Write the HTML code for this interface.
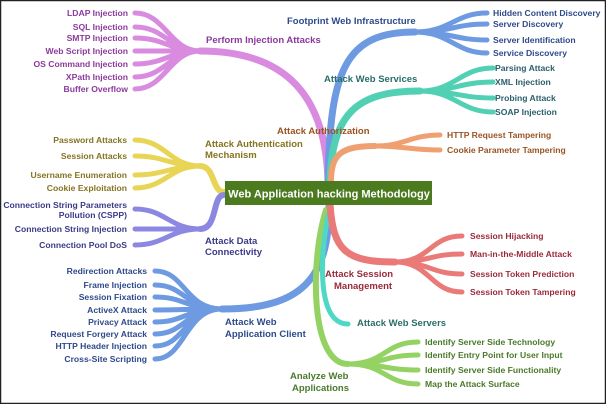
<!DOCTYPE html>
<html><head><meta charset="utf-8"><style>
html,body{margin:0;padding:0;background:#fff}
svg{display:block}
text{font-family:"Liberation Sans",sans-serif;font-weight:bold;font-size:8.6px}
</style></head><body>
<svg width="606" height="404" viewBox="0 0 606 404" xmlns="http://www.w3.org/2000/svg">
<rect x="0.5" y="0.5" width="605" height="403" fill="#fff" stroke="#222" stroke-width="1.5"/>
<g fill="none" stroke-linecap="round">
<!-- injection -->
<g stroke="#d98be0">
<path d="M328 182 C326 100 290 51 200 51" stroke-width="7"/>
<path d="M200 51 C170 51 165 13 135 13 M200 51 C170 51 165 27 135 27 M200 51 C170 51 165 38 135 38 M200 51 L135 51 M200 51 C170 51 165 64 135 64 M200 51 C170 51 165 77 135 77 M200 51 C170 51 165 89 135 89" stroke-width="5"/>
</g>
<!-- footprint -->
<g stroke="#6d9ae0">
<path d="M328 182 C330 70 345 32 415 32" stroke-width="7"/>
<path d="M415 32 C450 32 455 13 487 13 M415 32 C450 32 455 24 487 24 M415 32 C450 32 455 40 487 40 M415 32 C450 32 455 53 487 53" stroke-width="5"/>
</g>
<!-- web services -->
<g stroke="#52d0b4">
<path d="M330 182 C332 115 355 91 420 91" stroke-width="7"/>
<path d="M420 91 C455 91 460 68 493 68 M420 91 C455 91 460 82 493 82 M420 91 C455 91 460 98 493 98 M420 91 C455 91 460 112 493 112" stroke-width="5"/>
</g>
<!-- authorization -->
<g stroke="#f0a070">
<path d="M331 182 C331 155 340 146 375 146" stroke-width="6"/>
<path d="M375 146 C405 146 410 135 440 135 M375 146 C405 146 410 150 440 150" stroke-width="5"/>
</g>
<!-- auth mech -->
<g stroke="#e8d455">
<path d="M224 192 C212 192 215 166 200 166" stroke-width="6"/>
<path d="M200 166 C170 166 165 140 135 140 M200 166 C170 166 165 156 135 156 M200 166 C170 166 165 175 135 175 M200 166 C170 166 165 188 135 188" stroke-width="5"/>
</g>
<!-- data connectivity -->
<g stroke="#8c88e2">
<path d="M224 195 C212 195 218 229 200 229" stroke-width="6"/>
<path d="M200 229 C170 229 165 209 135 209 M200 229 L135 229 M200 229 C170 229 165 245 135 245" stroke-width="5"/>
</g>
<!-- client -->
<g stroke="#6d9ae0">
<path d="M329 204 C330 280 300 309 222 309" stroke-width="7"/>
<path d="M222 309 C185 309 185 271 155 271 M222 309 C185 309 185 285 155 285 M222 309 C185 309 185 297 155 297 M222 309 C185 309 185 310 155 310 M222 309 C185 309 185 322 155 322 M222 309 C185 309 185 334 155 334 M222 309 C185 309 185 346 155 346 M222 309 C185 309 185 359 155 359" stroke-width="5"/>
</g>
<!-- green analyze -->
<g stroke="#94d264">
<path d="M326 210 C310 260 310 364 348 364" stroke-width="6"/>
<path d="M348 364 C385 364 385 342 418 342 M348 364 C385 364 385 355 418 355 M348 364 C385 364 385 370 418 370 M348 364 C385 364 385 384 418 384" stroke-width="5"/>
</g>
<!-- web servers -->
<path d="M328 215 C318 270 320 324 348 324" stroke="#4fd8c6" stroke-width="5"/>
<!-- session -->
<g stroke="#e97a78">
<path d="M330 204 C333 250 345 262 395 262" stroke-width="7"/>
<path d="M395 262 C430 262 430 236 462 236 M395 262 C430 262 430 254 462 254 M395 262 C430 262 430 274 462 274 M395 262 C430 262 430 292 462 292" stroke-width="5"/>
</g>
</g>
<!-- central -->
<rect x="225" y="181" width="207" height="24" fill="#4b7a1f"/>
<text x="329" y="197.5" text-anchor="middle" fill="#fff" style="font-size:11px">Web Application hacking Methodology</text>
<!-- labels -->
<g text-anchor="end" fill="#8b3a9c">
<text x="128" y="16">LDAP Injection</text><text x="128" y="30">SQL Injection</text><text x="128" y="41">SMTP Injection</text><text x="128" y="54">Web Script Injection</text><text x="128" y="67">OS Command Injection</text><text x="128" y="80">XPath Injection</text><text x="128" y="92">Buffer Overflow</text>
</g>
<text x="206" y="43" fill="#8b3a9c" style="font-size:9.5px">Perform Injection Attacks</text>
<text x="287" y="24" fill="#2e4a8a" style="font-size:9.5px">Footprint Web Infrastructure</text>
<g fill="#2e4a8a"><text x="493" y="16">Hidden Content Discovery</text><text x="493" y="27">Server Discovery</text><text x="493" y="43">Server Identification</text><text x="493" y="56">Service Discovery</text></g>
<text x="324" y="82" fill="#2b6d6a" style="font-size:9.5px">Attack Web Services</text>
<g fill="#2b5e6a"><text x="495" y="71">Parsing Attack</text><text x="495" y="85">XML Injection</text><text x="495" y="101">Probing Attack</text><text x="495" y="115">SOAP Injection</text></g>
<text x="277" y="134" fill="#9a5422" style="font-size:9.5px">Attack Authorization</text>
<g fill="#9a5422"><text x="447" y="138">HTTP Request Tampering</text><text x="447" y="153">Cookie Parameter Tampering</text></g>
<g text-anchor="end" fill="#857420"><text x="127" y="143">Password Attacks</text><text x="127" y="159">Session Attacks</text><text x="127" y="178">Username Enumeration</text><text x="127" y="191">Cookie Exploitation</text></g>
<text x="205" y="147" fill="#857420" style="font-size:9.5px">Attack Authentication</text>
<text x="205" y="158" fill="#857420" style="font-size:9.5px">Mechanism</text>
<g text-anchor="end" fill="#3a3a88"><text x="127" y="208">Connection String Parameters</text><text x="127" y="218">Pollution (CSPP)</text><text x="127" y="232">Connection String Injection</text><text x="127" y="248">Connection Pool DoS</text></g>
<text x="205" y="244" fill="#3a3a88" style="font-size:9.5px">Attack Data</text>
<text x="205" y="255" fill="#3a3a88" style="font-size:9.5px">Connectivity</text>
<g text-anchor="end" fill="#2e4a8a"><text x="147" y="274">Redirection Attacks</text><text x="147" y="288">Frame Injection</text><text x="147" y="300">Session Fixation</text><text x="147" y="313">ActiveX Attack</text><text x="147" y="325">Privacy Attack</text><text x="147" y="337">Request Forgery Attack</text><text x="147" y="349">HTTP Header Injection</text><text x="147" y="362">Cross-Site Scripting</text></g>
<text x="225" y="325" fill="#2e4a8a" style="font-size:9.5px">Attack Web</text>
<text x="225" y="337" fill="#2e4a8a" style="font-size:9.5px">Application Client</text>
<text x="325" y="277" fill="#9a2a3a" style="font-size:9.5px">Attack Session</text>
<text x="334" y="289" fill="#9a2a3a" style="font-size:9.5px">Management</text>
<g fill="#9a2a3a"><text x="470" y="239">Session Hijacking</text><text x="470" y="257">Man-in-the-Middle Attack</text><text x="470" y="277">Session Token Prediction</text><text x="470" y="295">Session Token Tampering</text></g>
<text x="357" y="326" fill="#2b6d6a" style="font-size:9.5px">Attack Web Servers</text>
<g fill="#4a7a2a"><text x="425" y="345">Identify Server Side Technology</text><text x="425" y="358">Identify Entry Point for User Input</text><text x="425" y="373">Identify Server Side Functionality</text><text x="425" y="387">Map the Attack Surface</text></g>
<text x="290" y="379" fill="#4a7a2a" style="font-size:9.5px">Analyze Web</text>
<text x="292" y="391" fill="#4a7a2a" style="font-size:9.5px">Applications</text>
</svg>
</body></html>
